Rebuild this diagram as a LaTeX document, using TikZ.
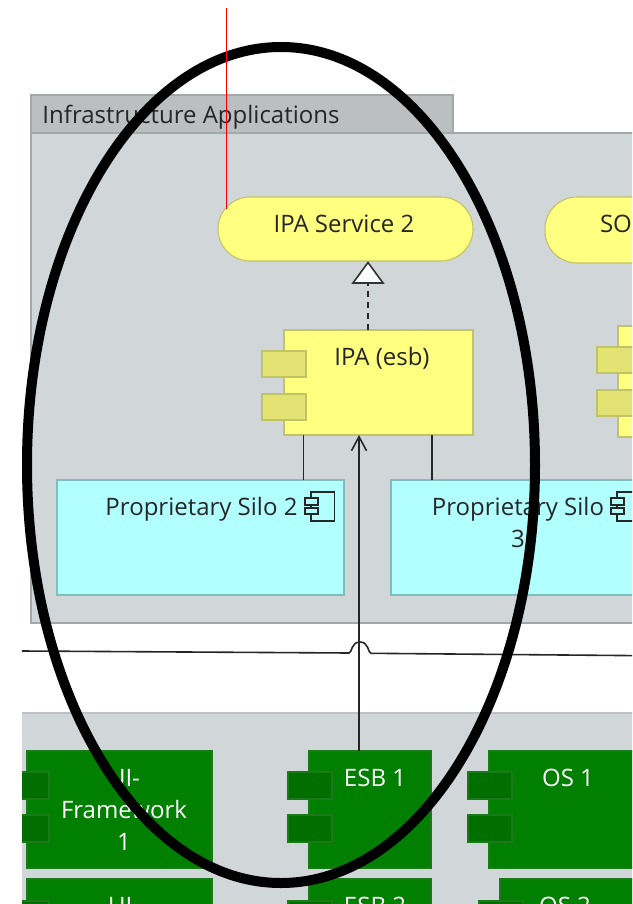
\documentclass[tikz,border=0pt]{standalone}
\usepackage{fontspec}
\setmainfont{Open Sans}
\usetikzlibrary{arrows.meta}
\definecolor{grp}{HTML}{D1D7D8}
\definecolor{grpb}{HTML}{A3A8A8}
\definecolor{tabf}{HTML}{BBBFC0}
\definecolor{yel}{HTML}{FFFF80}
\definecolor{yelb}{HTML}{C2C266}
\definecolor{yelt}{HTML}{E3E373}
\definecolor{cy}{HTML}{B2FFFF}
\definecolor{cyb}{HTML}{80BDBD}
\definecolor{grn}{HTML}{007F00}
\definecolor{grnb}{HTML}{1A7A1A}
\definecolor{grnt}{HTML}{006F00}
\tikzset{
  x=1pt,y=-1pt,
  boxn/.style={rectangle,inner sep=0pt,outer sep=0pt,line width=1.1pt,anchor=north west},
  grpbox/.style={boxn,draw=grpb,fill=grp},
  tabbox/.style={boxn,draw=grpb,fill=tabf},
  yelbox/.style={boxn,draw=yelb,fill=yel},
  yeltab/.style={boxn,draw=yelb,fill=yelt},
  cybox/.style={boxn,draw=cyb,fill=cy},
  grnbox/.style={boxn,draw=grnb,fill=grn},
  grntab/.style={boxn,draw=grnb,fill=grnt},
  txt/.style={inner sep=0pt,outer sep=0pt,anchor=base,font=\fontsize{24}{28}\selectfont,text=black!85},
  wtxt/.style={txt,text=white},
  wire/.style={line width=1.6pt,draw=black!85},
  size/.style 2 args={minimum width=#1pt,minimum height=#2pt}
}
\newcommand{\compicon}[2]{%
  \draw[line width=1.8pt,black!85] (#1+6,#2) rectangle (#1+29.5,#2+29);
  \draw[line width=1.8pt,black!85,fill=cy] (#1,#2+6) rectangle (#1+13,#2+13);
  \draw[line width=1.8pt,black!85,fill=cy] (#1,#2+16) rectangle (#1+13,#2+22);
}
\begin{document}
\begin{tikzpicture}
\useasboundingbox (0,0) rectangle (632,904);
\begin{scope}
\clip (0,0) rectangle (632,904);
\fill[white] (0,0) rectangle (632,904);
% groups
\node[tabbox,size={422}{38}] (gtab) at (31,95) {};
\node[grpbox,size={640}{490}] (gupper) at (31,133) {};
\node[txt] (gtitle) at (191,124) {Infrastructure Applications};
% services
\node[boxn,draw=yelb,fill=yel,rounded corners=32pt,size={255}{64}] (svc) at (218,197) {};
\node[txt] (svct) at (344,232) {IPA Service 2};
\node[boxn,draw=yelb,fill=yel,rounded corners=32pt,size={200}{66}] (so) at (545,197) {};
\node[txt,anchor=base west] (sot) at (600,232) {SO};
% application components
\node[yelbox,size={189}{105}] (ipa) at (284,330) {};
\node[yeltab,size={44}{26}] (ipat1) at (262,351) {};
\node[yeltab,size={44}{26}] (ipat2) at (262,394) {};
\node[txt] (ipal) at (382,365) {IPA (esb)};
\node[yelbox,size={60}{111}] (ipb) at (618,326) {};
\node[yeltab,size={60}{26}] (ipbt1) at (597,347) {};
\node[yeltab,size={60}{26}] (ipbt2) at (597,390) {};
% silos
\node[cybox,size={287}{115}] (silo2) at (57,480) {};
\node[txt] (silo2t) at (201.5,515) {Proprietary Silo 2};
\compicon{305}{492}
\node[cybox,size={280}{115}] (silo3) at (391,480) {};
\node[txt] (silo3t) at (518,515) {Proprietary Silo};
\node[txt] (silo3n) at (518,547) {3};
\compicon{611}{492}
% lower group, cut at the left by the screenshot's edge
\begin{scope}
\clip (22,600) rectangle (632,904);
\node[grpbox,draw=grpb!70!white,size={640}{220}] (glower) at (10,713) {};
\node[grnbox,size={185}{117}] (ui1) at (27,751) {};
\node[grntab,size={37}{27}] (ui1a) at (12,772) {};
\node[grntab,size={37}{27}] (ui1b) at (12,815) {};
\node[wtxt] (ui1t) at (124,786) {UI-};
\node[wtxt] (ui1u) at (124,818) {Framework};
\node[wtxt] (ui1v) at (124,850) {1};
\node[grnbox,size={122}{117}] (esb1) at (309,751) {};
\node[grntab,size={44}{27}] (esb1a) at (288,772) {};
\node[grntab,size={44}{27}] (esb1b) at (288,815) {};
\node[wtxt] (esb1t) at (375,786) {ESB 1};
\node[grnbox,size={180}{117}] (os1) at (489,751) {};
\node[grntab,size={44}{27}] (os1a) at (468,772) {};
\node[grntab,size={44}{27}] (os1b) at (468,815) {};
\node[wtxt] (os1t) at (568,786) {OS 1};
\node[grnbox,size={185}{60}] (ui2) at (27,879) {};
\node[grntab,size={37}{27}] (ui2a) at (12,901) {};
\node[wtxt] (ui2t) at (124,914) {UI-};
\node[grnbox,size={122}{60}] (esb2) at (309,879) {};
\node[grntab,size={44}{27}] (esb2a) at (288,901) {};
\node[wtxt] (esb2t) at (375,914) {ESB 2};
\node[grnbox,size={180}{60}] (os2) at (500,879) {};
\node[grntab,size={44}{27}] (os2a) at (479,901) {};
\node[wtxt] (os2t) at (565,914) {OS 2};
\end{scope}
% connectors
\coordinate (trib) at (368,283);
\draw[wire,dash pattern=on 6pt off 5pt] (368,330) -- (trib);
\draw[line width=1.6pt,draw=black!80,fill=white,line join=miter]
  (353,283) -- (368,262.5) -- (383,283) -- cycle;
\draw[wire] ([xshift=19.5pt]ipa.south west) -- ([xshift=19.5pt]ipa.south west |- silo2.north);
\draw[wire] ([xshift=-41pt]ipa.south east) -- ([xshift=-41pt]ipa.south east |- silo3.north);
\coordinate (wireL) at (22,651);
\coordinate (wireA) at (349,653);
\coordinate (wireB) at (371,653.3);
\coordinate (wireR) at (632,655.6);
\draw[wire] (wireL) -- (wireA) .. controls (352,653) and (351,642) .. (360,642) .. controls (369,642) and (368,653.3) .. (wireB) -- (wireR);
\draw[wire,-{Straight Barb[length=14pt,width=15pt,line width=1.6pt]}] ([xshift=-11pt]esb1.north) -- ([xshift=-11pt]esb1.north |- ipa.south);
% highlight ellipse
\draw[black,line width=10pt] (281,465) ellipse [x radius=254, y radius=418];
% red trace
\coordinate (redtop) at (226.5,8);
\draw[red,line width=1.6pt] (redtop) -- (226.5,209);
\end{scope}
\end{tikzpicture}
\end{document}
